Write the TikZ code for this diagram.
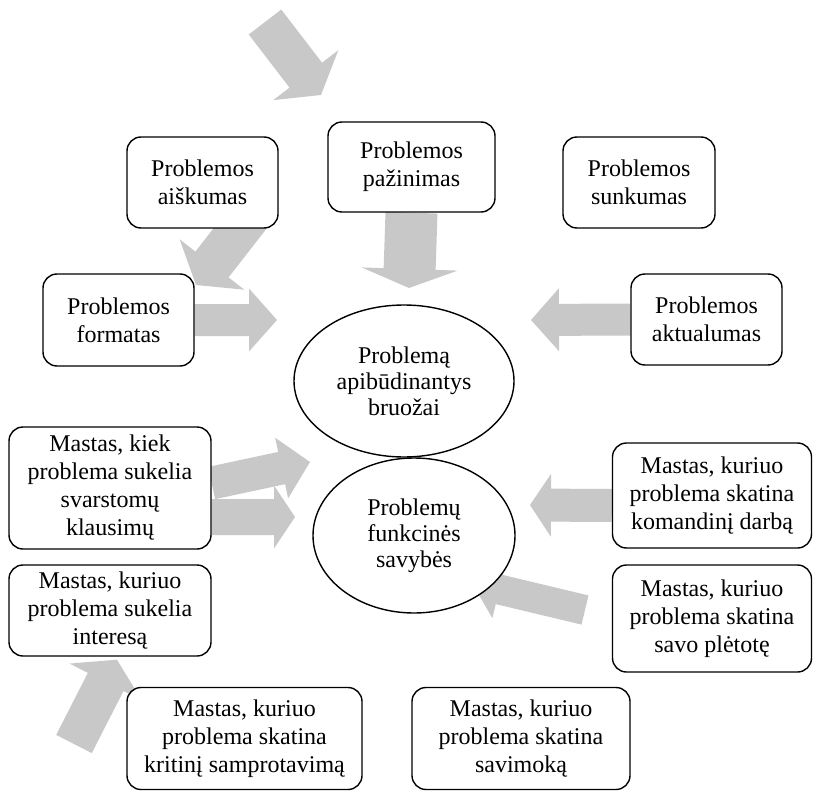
\documentclass[tikz,border=0pt]{standalone}
\usepackage{fontspec}
\setmainfont{Liberation Serif}
\usetikzlibrary{calc,shapes.geometric,backgrounds}
\definecolor{arrowgray}{RGB}{200,200,200}

% fat block arrow: tail, tip, half shaft, half head, head length
\newcommand{\fatarrow}[5]{%
  \coordinate (fa-s) at (#1);
  \coordinate (fa-t) at (#2);
  \coordinate (fa-h) at ($(fa-t)!#5!(fa-s)$);
  \fill[arrowgray] ($(fa-s)!#3!90:(fa-t)$) -- ($(fa-h)!#3!90:(fa-t)$)
    -- ($(fa-h)!#4!90:(fa-t)$) -- (fa-t) -- ($(fa-h)!#4!-90:(fa-t)$)
    -- ($(fa-h)!#3!-90:(fa-t)$) -- ($(fa-s)!#3!-90:(fa-t)$) -- cycle;
}

\begin{document}
\begin{tikzpicture}[
    x=0.5pt, y=-0.5pt,
    box/.style={rectangle, draw, rounded corners=7pt, fill=white, line width=0.7pt,
        align=center, inner sep=2pt, font=\fontsize{12}{14}\selectfont},
    oval/.style={ellipse, draw, fill=white, line width=0.7pt,
        align=center, inner sep=0pt, font=\fontsize{12}{13}\selectfont}
]
\useasboundingbox (0,0) rectangle (813,791);

% Centre
\node[oval, minimum width=110pt, minimum height=76pt] (bruozai) at (404,381) {Problemą\\apibūdinantys\\bruožai};
\node[oval, minimum width=101pt, minimum height=77.5pt] (savybes) at (414,535.5) {Problemų\\funkcinės\\savybės};

% Upper boxes
\node[box, minimum width=75.5pt, minimum height=45.5pt] (aiskumas) at (202.5,182.5) {Problemos\\aiškumas};
\node[box, minimum width=83.5pt, minimum height=45pt] (pazinimas) at (411.5,167) {Problemos\\pažinimas};
\node[box, minimum width=76pt, minimum height=45.5pt] (sunkumas) at (639,182.5) {Problemos\\sunkumas};
\node[box, minimum width=75.5pt, minimum height=46pt] (formatas) at (118.5,320) {Problemos\\formatas};
\node[box, minimum width=75.5pt, minimum height=45.5pt] (aktualumas) at (706.5,319.5) {Problemos\\aktualumas};

% Lower boxes
\node[box, minimum width=101pt, minimum height=61pt] (svarstomu) at (110,488) {Mastas, kiek\\problema sukelia\\svarstomų\\klausimų};
\node[box, minimum width=101pt, minimum height=45.5pt] (interesa) at (110,610.5) {Mastas, kuriuo\\problema sukelia\\interesą};
\node[box, minimum width=117.5pt, minimum height=51pt] (kritini) at (244.5,738.5) {Mastas, kuriuo\\problema skatina\\kritinį samprotavimą};
\node[box, minimum width=109pt, minimum height=51pt] (savimoka) at (521,738.5) {Mastas, kuriuo\\problema skatina\\savimoką};
\node[box, minimum width=99.5pt, minimum height=52.5pt] (komandini) at (712,495.5) {Mastas, kuriuo\\problema skatina\\komandinį darbą};
\node[box, minimum width=99.5pt, minimum height=53.5pt] (pletote) at (712,618.5) {Mastas, kuriuo\\problema skatina\\savo plėtotę};

% Arrows
\begin{pgfonlayer}{background}
\coordinate (top-tail) at (265,22);
\coordinate (top-tip) at (321,95);
\coordinate (aisk-tip) at (196,285);
\coordinate (paz-tip) at (409,288);
\coordinate (form-tip) at (277,320);
\coordinate (akt-tip) at (531,320);
\coordinate (svar-tip1) at (310,462);
\coordinate (svar-tip2) at (295,517);
\coordinate (kom-tip) at (530,505);
\coordinate (plet-tail) at (585,610);
\coordinate (plet-tip) at (472,583);
\coordinate (int-tail) at (74,744);

\fatarrow{top-tail}{top-tip}{10.25pt}{20.5pt}{12.5pt}
\fatarrow{[shift={(47.5,-13)}]aiskumas.south}{aisk-tip}{10.5pt}{20.5pt}{13pt}
\fatarrow{pazinimas.south}{paz-tip}{13pt}{24pt}{9.5pt}
\fatarrow{formatas.east}{form-tip}{8pt}{15.75pt}{14pt}
\fatarrow{aktualumas.west}{akt-tip}{8pt}{15.75pt}{14pt}
\fatarrow{[yshift=2.5pt]svarstomu.east}{svar-tip1}{8.25pt}{15.5pt}{14.5pt}
\fatarrow{[yshift=-14.5pt]svarstomu.east}{svar-tip2}{9pt}{15.75pt}{10.5pt}
\fatarrow{[yshift=-5pt]komandini.west}{kom-tip}{8.25pt}{15.75pt}{10.5pt}
\fatarrow{plet-tail}{plet-tip}{7.5pt}{14.75pt}{14pt}
\fatarrow{int-tail}{[xshift=3.5pt,yshift=-1.5pt]interesa.south}{10pt}{20.25pt}{12.5pt}
\end{pgfonlayer}

\end{tikzpicture}
\end{document}
